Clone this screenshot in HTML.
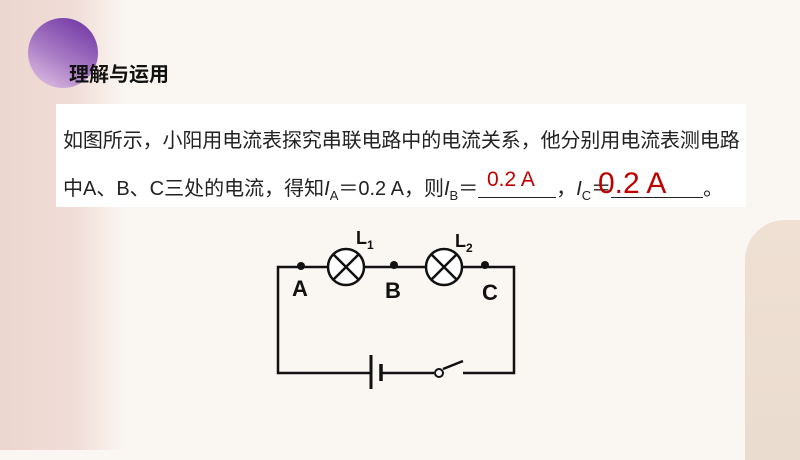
<!DOCTYPE html>
<html><head><meta charset="utf-8"><style>
body{margin:0;width:800px;height:450px;overflow:hidden;background:#faf6f2;position:relative;font-family:"Liberation Sans","Noto Sans CJK SC",sans-serif}
.abs{position:absolute}
</style></head><body>
<div class="abs" style="left:0;top:0;width:125px;height:450px;background:linear-gradient(90deg,#ecd6cf,#f0ddd7 60%,#faf6f2)"></div>
<div class="abs" style="left:745px;top:220px;width:70px;height:240px;background:linear-gradient(180deg,#efe0d3,#eadccf);border-radius:40px 0 0 0"></div>
<div class="abs" style="left:28px;top:18px;width:70px;height:70px;border-radius:50%;background:linear-gradient(30deg,#e6c8e6,#a77ac4 45%,#6a2ea0)"></div>
<div class="abs" style="left:69px;top:58px;font-size:20px;font-weight:bold;color:#111">理解与运用</div>
<div class="abs" style="left:56px;top:104px;width:690px;height:103px;background:#fff"></div>
<div class="abs" style="left:63px;top:124px;font-size:20px;color:#222;white-space:nowrap;letter-spacing:-0.1px">如图所示，小阳用电流表探究串联电路中的电流关系，他分别用电流表测电路</div>
<div class="abs" style="left:63px;top:172px;font-size:20px;color:#222;white-space:nowrap">中A、B、C三处的电流，得知<i>I</i><sub style="font-size:13px">A</sub>＝0.2 A，则<i>I</i><sub style="font-size:13px">B</sub>＝<span style="display:inline-block;width:78px;border-bottom:1px solid #222;height:20px;vertical-align:-3px"></span>，<i>I</i><sub style="font-size:13px">C</sub>＝<span style="display:inline-block;width:92px;border-bottom:1px solid #222;height:20px;vertical-align:-3px"></span>。</div>
<div class="abs" style="left:487px;top:168px;font-size:21px;color:#c00000">0.2 A</div>
<div class="abs" style="left:598px;top:167px;font-size:30px;color:#c00000">0.2 A</div>
<svg class="abs" style="left:0;top:0" width="800" height="450">
<g stroke="#111" stroke-width="2.5" fill="none">
<path d="M328 267H278V373H371M380 373H434M463 373H514V267H462M364 267H426"/>
<circle cx="346" cy="267" r="18" fill="#fff"/><path d="M333 254L359 280M359 254L333 280"/>
<circle cx="444" cy="267" r="18" fill="#fff"/><path d="M431 254L457 280M457 254L431 280"/>
<path d="M371 355V389" stroke-width="3"/><path d="M381 364V381" stroke-width="3.5"/>
<path d="M443 369L463 361"/>
<circle cx="439" cy="373" r="4" fill="#fff" stroke-width="2"/>
</g>
<g fill="#111"><circle cx="301" cy="266" r="4"/><circle cx="394" cy="265" r="4"/><circle cx="485" cy="265" r="4"/></g>
<g font-family="Liberation Sans" font-weight="bold" fill="#111">
<text x="292" y="296" font-size="22">A</text><text x="385" y="298" font-size="22">B</text><text x="482" y="300" font-size="22">C</text>
<text x="356" y="244" font-size="18">L</text><text x="367" y="249" font-size="12">1</text>
<text x="455" y="247" font-size="18">L</text><text x="466" y="252" font-size="12">2</text>
</g>
</svg>
</body></html>
